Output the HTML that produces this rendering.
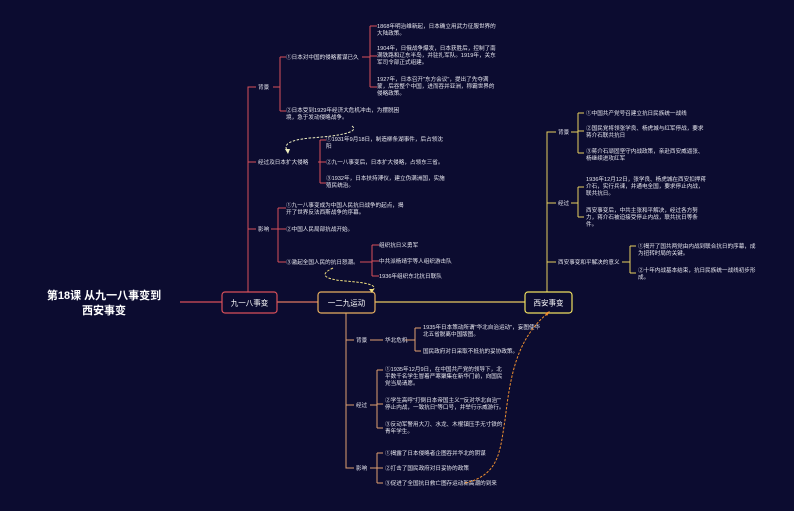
<!DOCTYPE html>
<html><head><meta charset="utf-8"><style>
html,body{margin:0;padding:0;background:#0c0c30;}
svg{display:block}
text{font-family:"Liberation Sans","Noto Sans CJK SC",sans-serif;fill:#e8e8f0;font-size:5.6px}
.t{font-size:11px;font-weight:bold;fill:#fff}
.b{font-size:7.5px;fill:#fff}
</style></head><body>
<svg width="794" height="511" viewBox="0 0 794 511" xmlns="http://www.w3.org/2000/svg">
<rect width="794" height="511" fill="#0c0c30"/>
<line x1="180" y1="302" x2="222" y2="302" stroke="#d9505a" stroke-width="1.2"/>
<line x1="277" y1="302" x2="318" y2="302" stroke="#e07a60" stroke-width="1.2"/>
<line x1="375" y1="302" x2="525" y2="302" stroke="#e8c860" stroke-width="1.2"/>
<text class="t" x="104" y="299" text-anchor="middle">第18课 从九一八事变到</text>
<text class="t" x="104" y="314" text-anchor="middle">西安事变</text>

<g stroke="#d9505a" stroke-width="1" fill="none">
<path d="M248 292 V87 H256 M248 162 H256 M248 229 H256"/>
<path d="M273 87 H280 M280 57 V111 M280 57 H286 M280 111 H286"/>
<path d="M362 57 H370 M370 26 V87 M370 26 H377 M370 56 H377 M370 87 H377"/>
<path d="M318 162 H320 M320 140 V183 M320 140 H326 M320 162 H326 M320 183 H326"/>
<path d="M271 229 H278 M278 208 V262 M278 208 H286 M278 229 H286 M278 262 H286"/>
<path d="M360 262 H372 M372 245 V276 M372 245 H379 M372 261 H379 M372 276 H379"/>
</g>
<rect x="222" y="292" width="55" height="21" rx="3" fill="#0c0c30" stroke="#d9505a" stroke-width="1.2"/>
<text class="b" x="249.5" y="305.5" text-anchor="middle">九一八事变</text>
<text x="258" y="89">背景</text>
<text x="286" y="59">①日本对中国的侵略蓄谋已久</text>
<text x="377" y="28">1868年明治维新起，日本确立用武力征服世界的</text>
<text x="377" y="35">大陆政策。</text>
<text x="377" y="50">1904年，日俄战争爆发，日本获胜后，控制了南</text>
<text x="377" y="57">满铁路和辽东半岛，并驻扎军队。1919年，关东</text>
<text x="377" y="64">军司令部正式组建。</text>
<text x="377" y="81">1927年，日本召开"东方会议"，提出了先夺满</text>
<text x="377" y="88">蒙，后吞整个中国，进而吞并亚洲，称霸世界的</text>
<text x="377" y="95">侵略政策。</text>
<text x="286" y="112">②日本受到1929年经济大危机冲击，为摆脱困</text>
<text x="286" y="119">境，急于发动侵略战争。</text>
<text x="258" y="164">经过及日本扩大侵略</text>
<text x="326" y="141">①1931年9月18日，制造柳条湖事件，后占领沈</text>
<text x="326" y="148">阳</text>
<text x="326" y="164">②九一八事变后，日本扩大侵略，占领东三省。</text>
<text x="326" y="180">③1932年，日本扶持溥仪，建立伪满洲国，实施</text>
<text x="326" y="187">殖民统治。</text>
<text x="258" y="231">影响</text>
<text x="286" y="207">①九一八事变成为中国人民抗日战争的起点，揭</text>
<text x="286" y="214">开了世界反法西斯战争的序幕。</text>
<text x="286" y="231">②中国人民局部抗战开始。</text>
<text x="286" y="264">③激起全国人民的抗日怒潮。</text>
<text x="379" y="247">组织抗日义勇军</text>
<text x="379" y="263">中共派杨靖宇等人组织游击队</text>
<text x="379" y="278">1936年组织东北抗日联队</text>

<g stroke="#e0a070" stroke-width="1" fill="none">
<path d="M346 313 V468 H354 M346 340 H354 M346 405 H354"/>
<path d="M370 340 H383 M405 340 H415 M415 328 V351 M415 328 H421 M415 351 H421"/>
<path d="M370 405 H377 M377 370 V428 M377 370 H383 M377 404 H383 M377 428 H383"/>
<path d="M370 468 H377 M377 453 V483 M377 453 H383 M377 468 H383 M377 483 H383"/>
</g>
<rect x="318" y="292" width="57" height="21" rx="3" fill="#0c0c30" stroke="#e8b060" stroke-width="1.2"/>
<text class="b" x="346.5" y="305.5" text-anchor="middle">一二九运动</text>
<text x="356" y="342">背景</text>
<text x="385" y="342">华北危机</text>
<text x="423" y="329">1935年日本策动所谓"华北自治运动"，妄图使华</text>
<text x="423" y="336">北五省脱离中国版图。</text>
<text x="423" y="353">国民政府对日采取不抵抗的妥协政策。</text>
<text x="356" y="407">经过</text>
<text x="385" y="371">①1935年12月9日，在中国共产党的领导下，北</text>
<text x="385" y="378">平数千名学生冒着严寒聚集在新华门前，向国民</text>
<text x="385" y="385">党当局请愿。</text>
<text x="385" y="402">②学生高呼"打倒日本帝国主义""反对华北自治""</text>
<text x="385" y="409">停止内战，一致抗日"等口号，并举行示威游行。</text>
<text x="385" y="426">③反动军警用大刀、水龙、木棍镇压手无寸铁的</text>
<text x="385" y="433">青年学生。</text>
<text x="356" y="470">影响</text>
<text x="385" y="455">①揭露了日本侵略者企图吞并华北的阴谋</text>
<text x="385" y="470">②打击了国民政府对日妥协的政策</text>
<text x="385" y="485">③促进了全国抗日救亡图存运动新高潮的到来</text>

<g stroke="#e8d060" stroke-width="1" fill="none">
<path d="M547 292 V132 H556 M547 203 H556 M547 262 H556"/>
<path d="M571 132 H578 M578 113 V153 M578 113 H584 M578 131 H584 M578 153 H584"/>
<path d="M571 203 H578 M578 187 V217 M578 187 H584 M578 217 H584"/>
<path d="M622 262 H630 M630 246 V273 M630 246 H636 M630 273 H636"/>
</g>
<rect x="525" y="292" width="47" height="21" rx="3" fill="#0c0c30" stroke="#f0e060" stroke-width="1.2"/>
<text class="b" x="548.5" y="305.5" text-anchor="middle">西安事变</text>
<text x="558" y="134">背景</text>
<text x="586" y="115">①中国共产党号召建立抗日民族统一战线</text>
<text x="586" y="130">②国民党将领张学良、杨虎城与红军停战，要求</text>
<text x="586" y="137">蒋介石联共抗日</text>
<text x="586" y="153">③蒋介石顽固坚守内战政策，亲赴西安威逼张、</text>
<text x="586" y="160">杨继续进攻红军</text>
<text x="558" y="205">经过</text>
<text x="586" y="181">1936年12月12日，张学良、杨虎城在西安扣押蒋</text>
<text x="586" y="188">介石，实行兵谏，并通电全国，要求停止内战，</text>
<text x="586" y="195">联共抗日。</text>
<text x="586" y="212">西安事变后，中共主张和平解决，经过各方努</text>
<text x="586" y="219">力，蒋介石被迫接受停止内战，联共抗日等条</text>
<text x="586" y="226">件。</text>
<text x="558" y="264">西安事变和平解决的意义</text>
<text x="638" y="248">①揭开了国共两党由内战到联合抗日的序幕，成</text>
<text x="638" y="255">为扭转时局的关键。</text>
<text x="638" y="272">②十年内战基本结束，抗日民族统一战线初步形</text>
<text x="638" y="279">成。</text>

<g fill="none" stroke-dasharray="2.5,1.5" stroke-width="1">
<path d="M352 126 C360 132 340 136 310 138 C290 140 282 144 288 152" stroke="#f0f0c0"/>
<path d="M333 268 C320 274 322 279 345 281 C372 283 378 286 372 291" stroke="#f0e080"/>
<path d="M465 483 C500 475 500 450 505 420 C510 380 515 340 548 313" stroke="#f09030"/>
</g>
<path d="M285 149 L288 154 L290 149 Z" fill="#f0f0c0"/>
<path d="M369 289 L372 293 L374 289 Z" fill="#f0e080"/>
<path d="M545 313 L550 311 L547 316 Z" fill="#f09030"/>
</svg>
</body></html>
